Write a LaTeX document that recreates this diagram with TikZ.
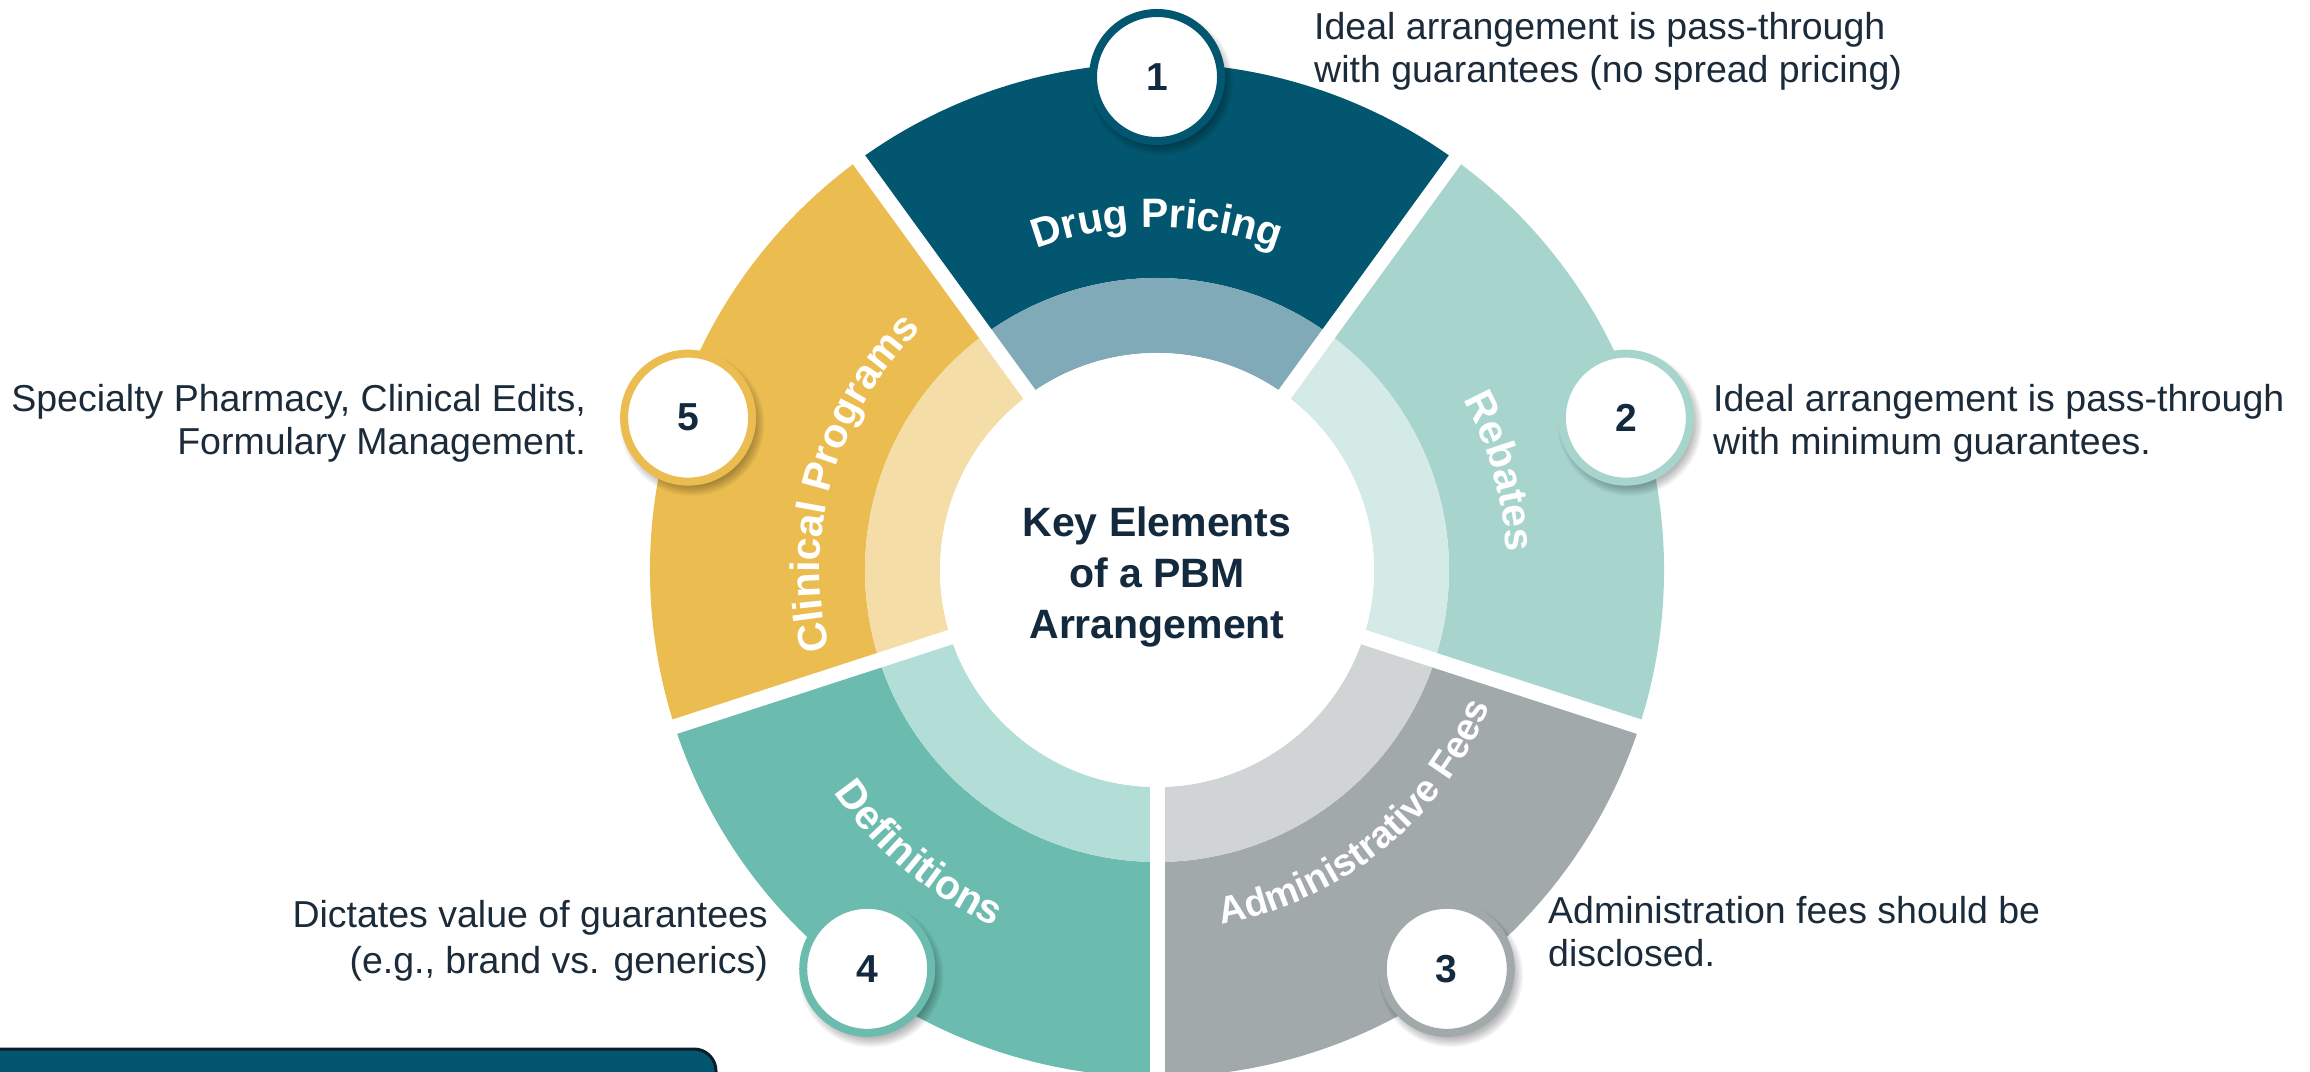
\documentclass[tikz,border=0pt]{standalone}
\usepackage{fontspec}
\setmainfont{Liberation Sans}
\usetikzlibrary{decorations.text}

\definecolor{drugD}{HTML}{02566F}
\definecolor{drugL}{HTML}{80AAB7}
\definecolor{clinD}{HTML}{EBBD50}
\definecolor{clinL}{HTML}{F4DDA6}
\definecolor{defD}{HTML}{6BBBAE}
\definecolor{defL}{HTML}{B3DDD7}
\definecolor{admD}{HTML}{A2A9AB}
\definecolor{admL}{HTML}{D0D4D5}
\definecolor{rebD}{HTML}{A7D5CE}
\definecolor{rebL}{HTML}{D3EAE6}
\definecolor{inkNavy}{HTML}{13293D}
\definecolor{inkText}{HTML}{1B2B3A}
\definecolor{boxEdge}{HTML}{0B1D28}

\newcommand{\seglabelfont}{\bfseries\fontsize{41}{41}\selectfont}
\newcommand{\seglabelfontsm}{\bfseries\fontsize{38}{38}\selectfont}

\begin{document}
\begin{tikzpicture}[x=1pt,y=1pt,
  numcirc/.style={circle, draw=#1, line width=8, fill=white, minimum size=128,
    inner sep=0, text=inkNavy, font=\bfseries\fontsize{39}{39}\selectfont},
  sidetext/.style={inner sep=0, text=inkText, font=\fontsize{37.5}{43}\selectfont},
  seglabel/.style={decorate, decoration={text along path, text align=center,
    text color=white, text={|\seglabelfont|#1}}},
  seglabelsm/.style={decorate, decoration={text along path, text align=center,
    text color=white, text={|\seglabelfontsm|#1}}}]
\useasboundingbox (0,0) rectangle (2310,1071);
\clip (0,0) rectangle (2310,1071);
\fill[white] (0,0) rectangle (2310,1071);

% footer box
\draw[fill=drugD, draw=boxEdge, line width=3, rounded corners=22] (-40,-40) rectangle (716,22);

\begin{scope}[shift={(1157,501)}]
  % ring sectors: dark outer band, light inner band
  \foreach \a/\b/\dk/\lt in {54/126/drugD/drugL, 126/198/clinD/clinL,
      198/270/defD/defL, 270/342/admD/admL, -18/54/rebD/rebL}{
    \fill[\dk] (\a:292) arc[start angle=\a, end angle=\b, radius=292]
      -- (\b:507) arc[start angle=\b, end angle=\a, radius=507] -- cycle;
    \fill[\lt] (\a:217) arc[start angle=\a, end angle=\b, radius=217]
      -- (\b:292) arc[start angle=\b, end angle=\a, radius=292] -- cycle;
  }
  % separating gaps
  \foreach \g in {54,126,198,270,342}
    \draw[white, line width=15] (0,0) -- (\g:560);
  \fill[white] (0,0) circle (217);

  % centre title
  \node[align=center, text=inkNavy, font=\bfseries\fontsize{41}{51}\selectfont]
    (title) at (0,-7) {Key Elements\\of a PBM\\Arrangement};

  % curved segment labels
  \path[seglabel={Drug Pricing}] (125:343) arc[start angle=125, end angle=55, radius=343];
  \path[seglabel={Rebates}] (50:350) arc[start angle=50, end angle=-18, radius=350];
  \path[seglabel={Clinical Programs}] (205:337) arc[start angle=205, end angle=123, radius=337];
  \path[seglabel={Definitions}] (-165:392) arc[start angle=-165, end angle=-95, radius=392];
  \path[seglabelsm={Administrative Fees}] (-90:360) arc[start angle=-90, end angle=-12, radius=360];

  % soft shadows under the number badges
  \foreach \ang in {90,18,-54,-126,162}
    \foreach \s in {0,1,2,3,4,5}
      \fill[black, opacity=0.05, shift={(\ang:493)}] (4,-6) circle ({72-\s*1.8});

  % number badges
  \node[numcirc=drugD] (n1) at (90:493) {1};
  \node[numcirc=rebD] (n2) at (18:493) {2};
  \node[numcirc=admD] (n3) at (-54:493) {3};
  \node[numcirc=defD] (n4) at (-126:493) {4};
  \node[numcirc=clinD] (n5) at (162:493) {5};
\end{scope}

% side descriptions
\node[sidetext, anchor=base west] (d1a) at (1314,1031) {Ideal arrangement is pass-through};
\node[sidetext, anchor=base west] (d1b) at (1314,988) {with guarantees (no spread pricing)};
\node[sidetext, anchor=base west] (d2a) at (1713,659) {Ideal arrangement is pass-through};
\node[sidetext, anchor=base west] (d2b) at (1713,616) {with minimum guarantees.};
\node[sidetext, anchor=base west] (d3a) at (1548,147) {Administration fees should be};
\node[sidetext, anchor=base west] (d3b) at (1548,104) {disclosed.};
\node[sidetext, anchor=base east] (d4a) at (768,143) {Dictates value of guarantees};
\node[sidetext, anchor=base east] (d4b) at (768,98) {(e.g., brand vs. generics)};
\node[sidetext, anchor=base east] (d5a) at (586,659) {Specialty Pharmacy, Clinical Edits,};
\node[sidetext, anchor=base east] (d5b) at (586,616) {Formulary Management.};
\end{tikzpicture}
\end{document}
